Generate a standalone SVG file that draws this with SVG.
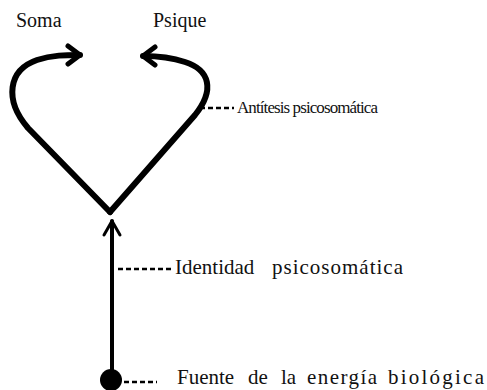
<svg xmlns="http://www.w3.org/2000/svg" width="487" height="390" viewBox="0 0 487 390">
<style>
.t{font-family:"Liberation Serif","DejaVu Serif",serif;font-size:21px;fill:#111}
.s{font-size:20px}
.a{font-size:17px}
.c{fill:none;stroke:#000;stroke-linecap:round;stroke-linejoin:round}
.h{stroke-width:6}
.v{stroke-width:4}
.d{fill:none;stroke:#000;stroke-width:2.5;stroke-dasharray:5 3}
</style>
<defs>
<marker id="ah" markerUnits="userSpaceOnUse" markerWidth="30" markerHeight="30" refX="15" refY="15" orient="auto" overflow="visible">
<path d="M3,6 L15,15 L3,24" fill="none" stroke="#000" stroke-width="5" stroke-linecap="round" stroke-linejoin="round"/>
</marker>
<marker id="av" markerUnits="userSpaceOnUse" markerWidth="30" markerHeight="30" refX="15" refY="15" orient="auto" overflow="visible">
<path d="M1,7 L15,15 L1,23" fill="none" stroke="#000" stroke-width="3" stroke-linecap="round" stroke-linejoin="round"/>
</marker>
</defs>
<g id="connectors">
<path id="soma-curve" class="c h" d="M110,212 L28,128 C4,100 8,70 37,60 C52,55 66,55 80,55" marker-end="url(#ah)"/>
<path id="psique-curve" class="c h" d="M110,212 L195,115 C215,90 210,70 185,62 C170,57 158,56 143,56" marker-end="url(#ah)"/>
<path id="stem" class="c v" d="M112,372 L112,221" marker-end="url(#av)"/>
<path class="d" d="M200,108 L234,108"/>
<path class="d" d="M118,269 L172,269"/>
<path class="d" d="M124,382 L157,382"/>
</g>
<g id="soma"><text class="t s" x="16" y="27">Soma</text></g>
<g id="psique"><text class="t s" x="153" y="27">Psique</text></g>
<g id="antitesis"><text class="t a" x="237" y="113" textLength="141">Antítesis psicosomática</text></g>
<g id="identidad"><text class="t" x="175" y="274"><tspan>Identidad</tspan><tspan x="272" textLength="131">psicosomática</tspan></text></g>
<g id="fuente">
<circle cx="111" cy="380" r="11" fill="#000"/>
<text class="t" x="177" y="384"><tspan>Fuente</tspan><tspan x="248">de</tspan><tspan x="281">la</tspan><tspan x="307" textLength="70">energía</tspan><tspan x="388" textLength="96">biológica</tspan></text>
</g>
</svg>
